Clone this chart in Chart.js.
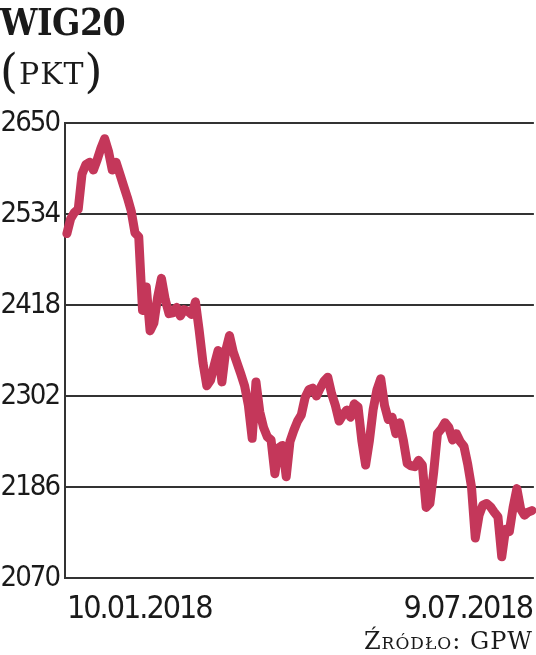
<!DOCTYPE html>
<html>
<head>
<meta charset="utf-8">
<script src="https://cdn.jsdelivr.net/npm/chart.js@4"></script>
<style>
  body { margin: 0; background: #fff; }
  #wrap { position: relative; width: 536px; height: 655px; overflow: hidden; }
  #chart { position: absolute; left: 0; top: 0; }
  .title { position: absolute; left: 0; top: 0; font-family: "DejaVu Serif", serif; font-weight: bold;
    font-stretch: condensed; font-size: 37px; line-height: 44px; color: #1a1a1a; letter-spacing: -0.5px; }
  .unit { position: absolute; left: 0; top: 50px; font-family: "DejaVu Serif", serif; font-size: 30px;
    line-height: 36px; color: #1a1a1a; letter-spacing: 1px; }
  .unit .par { font-size: 46px; position: relative; top: 3px; font-weight: 300; }
  .source { position: absolute; right: 3px; top: 627px; font-family: "DejaVu Serif", serif; font-size: 24px;
    line-height: 28px; color: #1a1a1a; font-variant: small-caps; letter-spacing: 1px; }
</style>
</head>
<body>
<div id="wrap">
  <canvas id="chart" width="536" height="655"></canvas>
  <div class="title">WIG20</div>
  <div class="unit"><span class="par">(</span>PKT<span class="par">)</span></div>
  <div class="source">Źródło: GPW</div>
</div>
<script>
// WIG20 daily close, 10.01.2018 - 9.07.2018
const wig20 = [
  2509, 2528, 2536, 2540, 2585, 2597, 2600, 2590, 2603, 2618,
  2630, 2614, 2590, 2600, 2585, 2570, 2555, 2538, 2510, 2505,
  2411, 2441, 2385, 2395, 2428, 2452, 2425, 2407, 2408, 2415,
  2404, 2412, 2410, 2406, 2422, 2385, 2344, 2315, 2322, 2342,
  2360, 2320, 2360, 2379, 2358, 2344, 2330, 2315, 2290, 2248,
  2320, 2282, 2262, 2250, 2246, 2203, 2236, 2239, 2199, 2244,
  2258, 2270, 2278, 2300, 2310, 2312, 2302, 2312, 2321, 2326,
  2305, 2290, 2270, 2278, 2284, 2275, 2292, 2288, 2245, 2214,
  2245, 2285, 2310, 2324, 2290, 2272, 2275, 2254, 2268, 2245,
  2216, 2213, 2212, 2220, 2214, 2160, 2165, 2205, 2254, 2260,
  2268, 2262, 2246, 2254, 2244, 2238, 2215, 2186, 2121, 2150,
  2163, 2165, 2161, 2154, 2148, 2097, 2132, 2129, 2160, 2184,
  2158, 2150, 2154, 2156
];
const firstDate = "10.01.2018";
const lastDate = "9.07.2018";
const yTicks = [2070, 2186, 2302, 2418, 2534, 2650];

const tickFamily = "'DejaVu Sans Condensed', 'DejaVu Sans', sans-serif";

// squeeze the tick digits a bit, the original uses a very narrow face
const tightText = {
  id: "tightText",
  beforeDraw: (chart) => { chart.ctx.letterSpacing = "-2px"; },
};

function drawChart() {
  const ctx = document.getElementById("chart");
  const n = wig20.length;
  const labels = wig20.map((v, i) => (i === 0 ? firstDate : i === n - 1 ? lastDate : ""));

  const config = {
    type: "line",
    data: {
      labels: labels,
      datasets: [
        {
          data: wig20,
          borderColor: "#c4375a",
          borderWidth: 9,
          borderJoinStyle: "round",
          borderCapStyle: "round",
          pointRadius: 0,
          tension: 0,
          clip: false,
        },
      ],
    },
    options: {
      responsive: false,
      animation: false,
      events: [],
      layout: { padding: { top: 123, right: 0, bottom: 21, left: 0 } },
      plugins: { legend: { display: false }, tooltip: { enabled: false } },
      scales: {
        x: {
          offset: true,
          grid: { display: false },
          border: { display: false },
          ticks: {
            autoSkip: false,
            maxRotation: 0,
            align: "inner",
            padding: 4,
            color: "#1a1a1a",
            font: { family: tickFamily, size: 32 },
            callback: (v, i) => labels[i],
          },
          afterFit: (scale) => { scale.height = 56; },
        },
        y: {
          min: yTicks[0],
          max: yTicks[yTicks.length - 1],
          afterBuildTicks: (scale) => { scale.ticks = yTicks.map((v) => ({ value: v })); },
          grid: { color: "#333", lineWidth: 2, drawTicks: false },
          border: { display: true, color: "#333", width: 2 },
          ticks: {
            padding: 6,
            color: "#1a1a1a",
            font: { family: tickFamily, size: 29 },
            callback: (v) => String(v),
          },
          afterFit: (scale) => { scale.width = 65; },
        },
      },
    },
    plugins: [tightText],
  };

  new Chart(ctx, config);
}

document.addEventListener("DOMContentLoaded", drawChart);
</script>
</body>
</html>
